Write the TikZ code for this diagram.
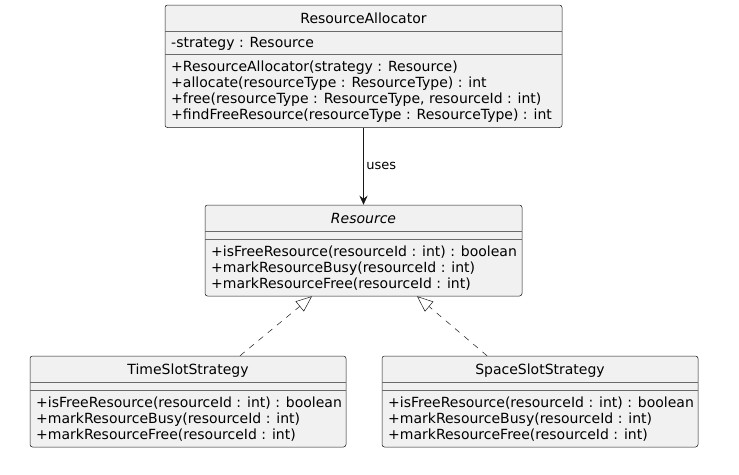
\documentclass[tikz,border=0pt]{standalone}
\usepackage{fontspec}
\setmainfont{DejaVu Sans}
\usetikzlibrary{arrows.meta,positioning}
\definecolor{boxfill}{HTML}{F1F1F1}
\definecolor{boxline}{HTML}{181818}
\definecolor{sepgray}{HTML}{6A6A6A}

\begin{document}
\begin{tikzpicture}[x=1pt,y=-1pt,
    classbox/.style={draw=boxline, fill=boxfill, rounded corners=2.5pt, line width=0.5pt, inner sep=0pt},
    sepline/.style={draw=sepgray, line width=0.5pt},
    classname/.style={anchor=base, inner sep=0pt, font=\fontsize{14}{16}\selectfont},
    member/.style={anchor=base west, inner sep=0pt, font=\fontsize{14}{16}\selectfont},
    usesarrow/.style={draw=boxline, line width=0.6pt, -{Stealth[length=9pt, width=8pt, inset=3pt]}},
    realizes/.style={draw=boxline, line width=0.5pt, dash pattern=on 6pt off 6pt, -{Triangle[open, length=16pt, width=13pt]}}]

        \useasboundingbox (0,0) rectangle (739,474);

        % Class boxes.
        \node[classbox, minimum width=397pt, minimum height=122.5pt] (alloc) at (363.5,66.25) {};
        \node[classbox, minimum width=317pt, minimum height=91pt] (res) at (363.5,250.5) {};
        \node[classbox, minimum width=316pt, minimum height=91pt] (time) at (188,401.5) {};
        \node[classbox, minimum width=316pt, minimum height=91pt] (space) at (540,401.5) {};

        % Compartment lines.
        \foreach \d in {26,49}
            \draw[sepline] ([yshift=-\d pt]alloc.north west) -- ([yshift=-\d pt]alloc.north east);
        \foreach \cls in {res,time,space}
            \foreach \d in {26,34}
                \draw[sepline] ([yshift=-\d pt]\cls.north west) -- ([yshift=-\d pt]\cls.north east);

        % ResourceAllocator.
        \node[classname] (allocname) at (363.5,23.5) {ResourceAllocator};
        \node[member] (allocattr) at (171,47.5) {-strategy : Resource};
        \foreach \m [count=\i] in {+ResourceAllocator(strategy : Resource),
                                   +allocate(resourceType : ResourceType) : int,
                                   {+free(resourceType : ResourceType, resourceId : int)},
                                   +findFreeResource(resourceType : ResourceType) : int}
            \node[member] (allocop\i) at (171,{71.5+16*(\i-1)}) {\m};

        % Resource.
        \node[classname] (resname) at (363.5,223.5) {\itshape Resource};
        \foreach \m [count=\i] in {+isFreeResource(resourceId : int) : boolean,
                                   +markResourceBusy(resourceId : int),
                                   +markResourceFree(resourceId : int)}
            \node[member] (resop\i) at (211,{256+16*(\i-1)}) {\m};

        % Strategies.
        \node[classname] (timename) at (188,374.5) {TimeSlotStrategy};
        \node[classname] (spacename) at (540,374.5) {SpaceSlotStrategy};
        \foreach \m [count=\i] in {+isFreeResource(resourceId : int) : boolean,
                                   +markResourceBusy(resourceId : int),
                                   +markResourceFree(resourceId : int)}
        {
            \node[member] (timeop\i) at (36,{407+16*(\i-1)}) {\m};
            \node[member] (spaceop\i) at (388,{407+16*(\i-1)}) {\m};
        }

        % Relations.
        \draw[usesarrow] (alloc.south) -- (res.north)
            node[midway, right, inner sep=2.5pt, font=\fontsize{13}{15}\selectfont] (uses) {uses};
        \draw[realizes] ([xshift=52pt]time.north) -- ([xshift=-51.5pt]res.south);
        \draw[realizes] ([xshift=-53pt]space.north) -- ([xshift=53.5pt]res.south);
    \end{tikzpicture}
\end{document}
